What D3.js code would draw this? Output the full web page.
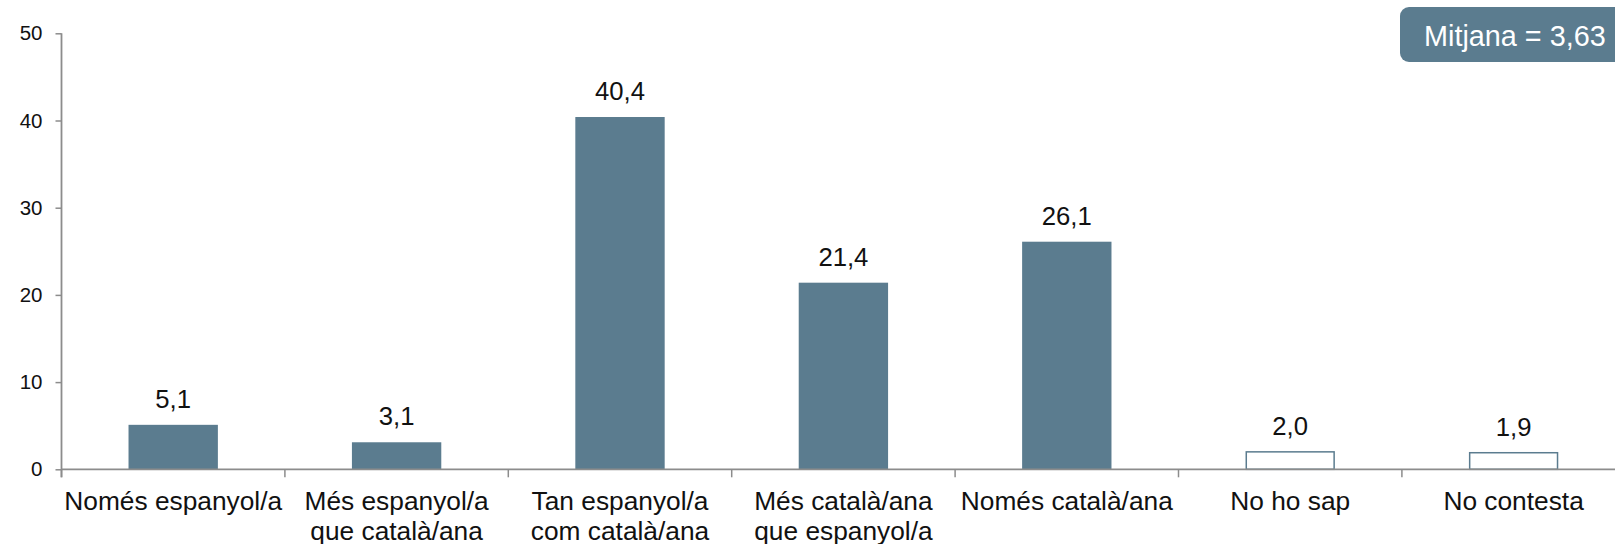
<!DOCTYPE html>
<html>
<head>
<meta charset="utf-8">
<script src="https://cdn.jsdelivr.net/npm/d3@7"></script>
<style>
  html, body { margin: 0; padding: 0; background: #fff; }
  svg { display: block; font-family: "Liberation Sans", Arial, sans-serif; }
</style>
</head>
<body>
<svg id="chart" width="1615" height="544"></svg>
<script>
// Categories (line breaks mark wrapped labels)
const categories = [
  "Només espanyol/a",
  "Més espanyol/a\nque català/ana",
  "Tan espanyol/a\ncom català/ana",
  "Més català/ana\nque espanyol/a",
  "Només català/ana",
  "No ho sap",
  "No contesta"
];
// Percentages
const values = [5.1, 3.1, 40.4, 21.4, 26.1, 2.0, 1.9];
// Whether each bar is drawn hollow (non-substantive answers)
const hollow = [false, false, false, false, false, true, true];
const yTicks = [0, 10, 20, 30, 40, 50];
const meanLabel = "Mitjana = 3,63";

const barColor = "#5b7c8f";
const axisColor = "#8c8c8c";

const svg = d3.select("#chart");

const x0 = 61.5, xEnd = 61.5 + 7 * 223.4;
const yTop = 33.3, yBottom = 469.3;

const x = d3.scaleBand()
  .domain(categories)
  .range([x0, xEnd])
  .paddingInner(0.6)
  .paddingOuter(0.3);

const y = d3.scaleLinear().domain([0, 50]).range([yBottom, yTop]);

const fmt = v => d3.format(".1f")(v).replace(".", ",");

// Bars
svg.append("g").selectAll("rect")
  .data(values)
  .join("rect")
  .attr("x", (d, i) => x(categories[i]) + (hollow[i] ? 0.75 : 0))
  .attr("y", d => y(d))
  .attr("width", (d, i) => x.bandwidth() - (hollow[i] ? 1.5 : 0))
  .attr("height", d => yBottom - y(d))
  .attr("fill", (d, i) => hollow[i] ? "#fff" : barColor)
  .attr("stroke", (d, i) => hollow[i] ? barColor : "none")
  .attr("stroke-width", 1.5);

// Value labels
svg.append("g").selectAll("text")
  .data(values)
  .join("text")
  .attr("x", (d, i) => x(categories[i]) + x.bandwidth() / 2)
  .attr("y", d => y(d) - 17)
  .attr("text-anchor", "middle")
  .attr("font-size", 25.7)
  .attr("fill", "#111")
  .text(d => fmt(d));

// Y axis
const yAxis = svg.append("g")
  .attr("transform", `translate(${x0},0)`)
  .call(d3.axisLeft(y).tickValues(yTicks).tickSize(6).tickSizeOuter(0).tickPadding(13));
yAxis.select(".domain").remove();
yAxis.selectAll(".tick line").attr("stroke", axisColor).attr("stroke-width", 1.5);
yAxis.selectAll(".tick text")
  .attr("font-size", 20.5)
  .attr("font-family", "Liberation Sans, Arial, sans-serif")
  .attr("fill", "#111");
yAxis.append("line")
  .attr("x1", 0).attr("x2", 0)
  .attr("y1", yTop).attr("y2", yBottom + 8)
  .attr("stroke", axisColor).attr("stroke-width", 1.8);

// X axis: baseline, ticks at category boundaries, labels centred in each band
const step = x.step();
const xAxis = svg.append("g");
xAxis.append("line")
  .attr("x1", x0).attr("x2", xEnd)
  .attr("y1", yBottom).attr("y2", yBottom)
  .attr("stroke", axisColor).attr("stroke-width", 1.8);
xAxis.selectAll("line.tick")
  .data(d3.range(categories.length + 1))
  .join("line")
  .attr("class", "tick")
  .attr("x1", i => x0 + i * step).attr("x2", i => x0 + i * step)
  .attr("y1", yBottom).attr("y2", yBottom + 8)
  .attr("stroke", axisColor).attr("stroke-width", 1.5);

const labels = xAxis.selectAll("text")
  .data(categories)
  .join("text")
  .attr("text-anchor", "middle")
  .attr("font-size", 26.3)
  .attr("fill", "#111")
  .attr("x", d => x(d) + x.bandwidth() / 2)
  .attr("y", yBottom + 40.7);
labels.each(function (d) {
  const t = d3.select(this);
  d.split("\n").forEach((line, k) => {
    t.append("tspan")
      .attr("x", x(d) + x.bandwidth() / 2)
      .attr("dy", k === 0 ? 0 : 30)
      .text(line);
  });
});

// Mean badge
const badge = svg.append("g");
badge.append("rect")
  .attr("x", 1400).attr("y", 7)
  .attr("width", 240).attr("height", 55)
  .attr("rx", 9).attr("ry", 9)
  .attr("fill", barColor);
badge.append("text")
  .attr("x", 1424).attr("y", 46)
  .attr("font-size", 28.8)
  .attr("fill", "#fff")
  .text(meanLabel);
</script>
</body>
</html>
